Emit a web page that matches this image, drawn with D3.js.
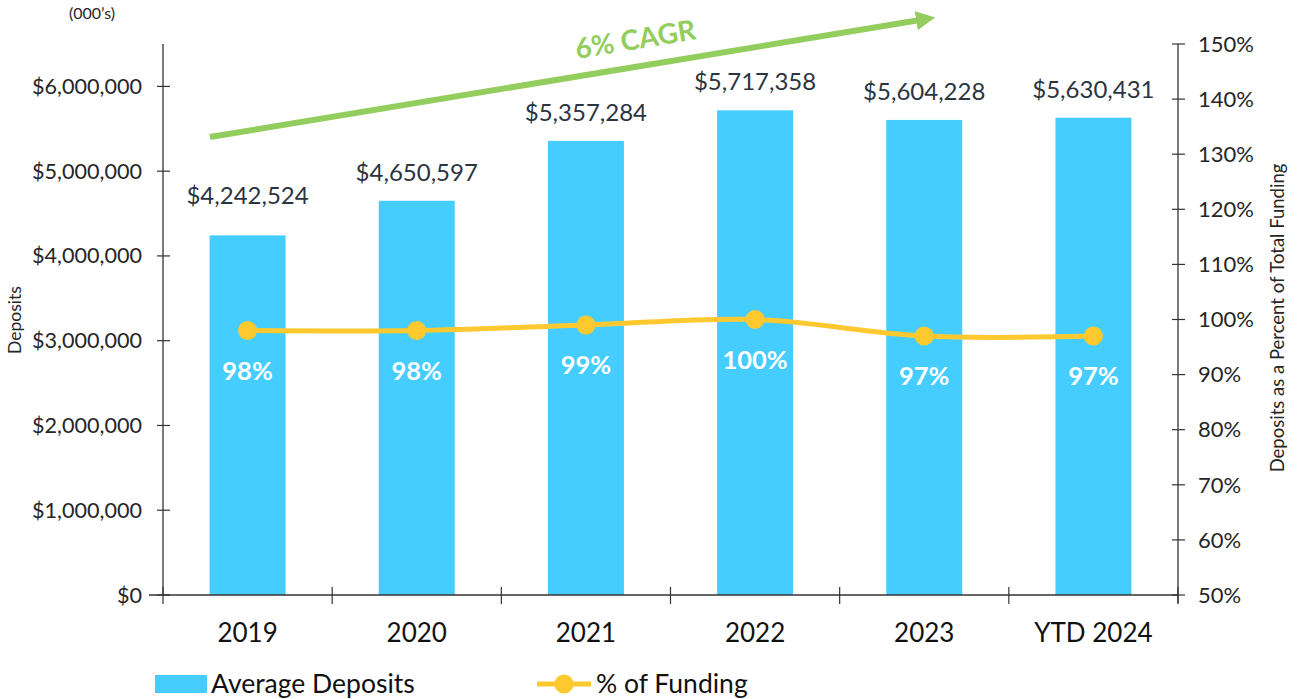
<!DOCTYPE html>
<html>
<head>
<meta charset="utf-8">
<script src="https://cdn.jsdelivr.net/npm/d3@7"></script>
<style>
  body { margin: 0; background: #fff; }
  svg text { font-family: Lato, "Open Sans", sans-serif; }
</style>
</head>
<body>
<div id="chart"></div>
<script>
// data
const categories = ["2019", "2020", "2021", "2022", "2023", "YTD 2024"];
const deposits = [4242524, 4650597, 5357284, 5717358, 5604228, 5630431];
const fundingPct = [98, 98, 99, 100, 97, 97];
const leftTicks = [0, 1000000, 2000000, 3000000, 4000000, 5000000, 6000000];
const rightTicks = [50, 60, 70, 80, 90, 100, 110, 120, 130, 140, 150];

const W = 1297, H = 699;
const svg = d3.select("#chart").append("svg")
    .attr("width", W).attr("height", H);

const x0 = 163, x1 = 1178, yBottom = 595, yTop = 44;

const x = d3.scaleBand().domain(categories).range([x0, x1]).paddingInner(0).paddingOuter(0);
const yL = d3.scaleLinear().domain([0, 6500000]).range([yBottom, yTop]);
const yR = d3.scaleLinear().domain([50, 150]).range([yBottom, yTop]);

const barColor = "#45cdff", lineColor = "#fec92f", green = "#92cd5e";
const textColor = "#262626";
const fmt = d3.format("$,");

// bars
const barW = 76;
svg.append("g").selectAll("rect").data(deposits).join("rect")
    .attr("x", (d, i) => x(categories[i]) + x.bandwidth() / 2 - barW / 2)
    .attr("y", d => yL(d))
    .attr("width", barW)
    .attr("height", d => yBottom - yL(d))
    .attr("fill", barColor);

// value labels above bars (first one sits a bit higher in the original)
svg.append("g").selectAll("text").data(deposits).join("text")
    .attr("x", (d, i) => x(categories[i]) + x.bandwidth() / 2)
    .attr("y", (d, i) => yL(d) - (i === 0 ? 31 : 20))
    .attr("text-anchor", "middle")
    .attr("font-size", 24)
    .attr("fill", "#2b3441")
    .text(d => fmt(d));

// left axis
const gL = svg.append("g").attr("transform", `translate(${x0},0)`);
gL.append("line").attr("y1", yTop).attr("y2", yBottom).attr("stroke", "#333").attr("stroke-width", 1.3);
gL.selectAll(".t").data(leftTicks).join("line")
    .attr("x1", -6).attr("x2", 7)
    .attr("y1", d => yL(d)).attr("y2", d => yL(d))
    .attr("stroke", "#333").attr("stroke-width", 1.2);
gL.selectAll("text").data(leftTicks).join("text")
    .attr("x", -21).attr("y", d => yL(d)).attr("dy", "0.35em")
    .attr("text-anchor", "end").attr("font-size", 21.6).attr("fill", textColor)
    .text(d => fmt(d));

// right axis
const gR = svg.append("g").attr("transform", `translate(${x1},0)`);
gR.append("line").attr("y1", yTop).attr("y2", yBottom + 8).attr("stroke", "#333").attr("stroke-width", 1.3);
gR.selectAll(".t").data(rightTicks).join("line")
    .attr("x1", -6).attr("x2", 7)
    .attr("y1", d => yR(d)).attr("y2", d => yR(d))
    .attr("stroke", "#333").attr("stroke-width", 1.2);
gR.selectAll("text").data(rightTicks).join("text")
    .attr("x", 20).attr("y", d => yR(d)).attr("dy", "0.35em")
    .attr("font-size", 22).attr("fill", textColor)
    .text(d => d + "%");

// bottom axis
const gB = svg.append("g");
gB.append("line").attr("x1", x0 - 14).attr("x2", x1).attr("y1", yBottom).attr("y2", yBottom)
    .attr("stroke", "#333").attr("stroke-width", 1.3);
const bounds = categories.map(c => x(c)).concat([x1]);
gB.selectAll(".t").data(bounds).join("line")
    .attr("x1", d => d).attr("x2", d => d)
    .attr("y1", yBottom - 8).attr("y2", yBottom + 9)
    .attr("stroke", "#333").attr("stroke-width", 1.2);
gB.selectAll("text").data(categories).join("text")
    .attr("x", d => x(d) + x.bandwidth() / 2).attr("y", 642)
    .attr("text-anchor", "middle").attr("font-size", 26).attr("fill", "#111")
    .text(d => d);

// % of funding line
const pts = fundingPct.map((v, i) => [x(categories[i]) + x.bandwidth() / 2, yR(v)]);
svg.append("path")
    .attr("d", d3.line().curve(d3.curveCatmullRom.alpha(0.5))(pts))
    .attr("fill", "none").attr("stroke", lineColor).attr("stroke-width", 5);
svg.append("g").selectAll("circle").data(pts).join("circle")
    .attr("cx", d => d[0]).attr("cy", d => d[1]).attr("r", 9.5)
    .attr("fill", lineColor);
svg.append("g").selectAll("text").data(fundingPct).join("text")
    .attr("x", (d, i) => pts[i][0]).attr("y", (d, i) => pts[i][1] + 49)
    .attr("text-anchor", "middle").attr("font-size", 25.5).attr("font-weight", "bold")
    .attr("fill", "#fff")
    .text(d => d + "%");

// CAGR arrow
const defs = svg.append("defs");
defs.append("marker").attr("id", "arr")
    .attr("viewBox", "0 0 10 10").attr("refX", 2).attr("refY", 5)
    .attr("markerWidth", 3.2).attr("markerHeight", 3.2).attr("orient", "auto")
  .append("path").attr("d", "M0,0 L10,5 L0,10 z").attr("fill", green);
svg.append("line")
    .attr("x1", 210).attr("y1", 137).attr("x2", 920).attr("y2", 20)
    .attr("stroke", green).attr("stroke-width", 6)
    .attr("marker-end", "url(#arr)");
svg.append("text")
    .attr("transform", "translate(637,49) rotate(-9.4)")
    .attr("text-anchor", "middle").attr("font-size", 28).attr("font-weight", "bold")
    .attr("fill", green)
    .text("6% CAGR");

// axis titles
svg.append("text").attr("x", 92).attr("y", 19).attr("text-anchor", "middle")
    .attr("font-size", 16).attr("fill", textColor).text("(000\u2019s)");
svg.append("text").attr("transform", "translate(21,320) rotate(-90)")
    .attr("text-anchor", "middle").attr("font-size", 17.5).attr("fill", textColor)
    .text("Deposits");
svg.append("text").attr("transform", "translate(1284,318) rotate(-90)")
    .attr("text-anchor", "middle").attr("font-size", 18.5).attr("fill", textColor)
    .text("Deposits as a Percent of Total Funding");

// legend
const lg = svg.append("g");
lg.append("rect").attr("x", 155).attr("y", 675).attr("width", 52).attr("height", 18).attr("fill", barColor);
lg.append("text").attr("x", 211).attr("y", 693).attr("font-size", 26.5).attr("fill", "#111").text("Average Deposits");
lg.append("line").attr("x1", 537).attr("x2", 591).attr("y1", 684).attr("y2", 684)
    .attr("stroke", lineColor).attr("stroke-width", 5);
lg.append("circle").attr("cx", 564).attr("cy", 684).attr("r", 9.5).attr("fill", lineColor);
lg.append("text").attr("x", 596).attr("y", 693).attr("font-size", 26.5).attr("fill", "#111").text("% of Funding");
</script>
</body>
</html>
